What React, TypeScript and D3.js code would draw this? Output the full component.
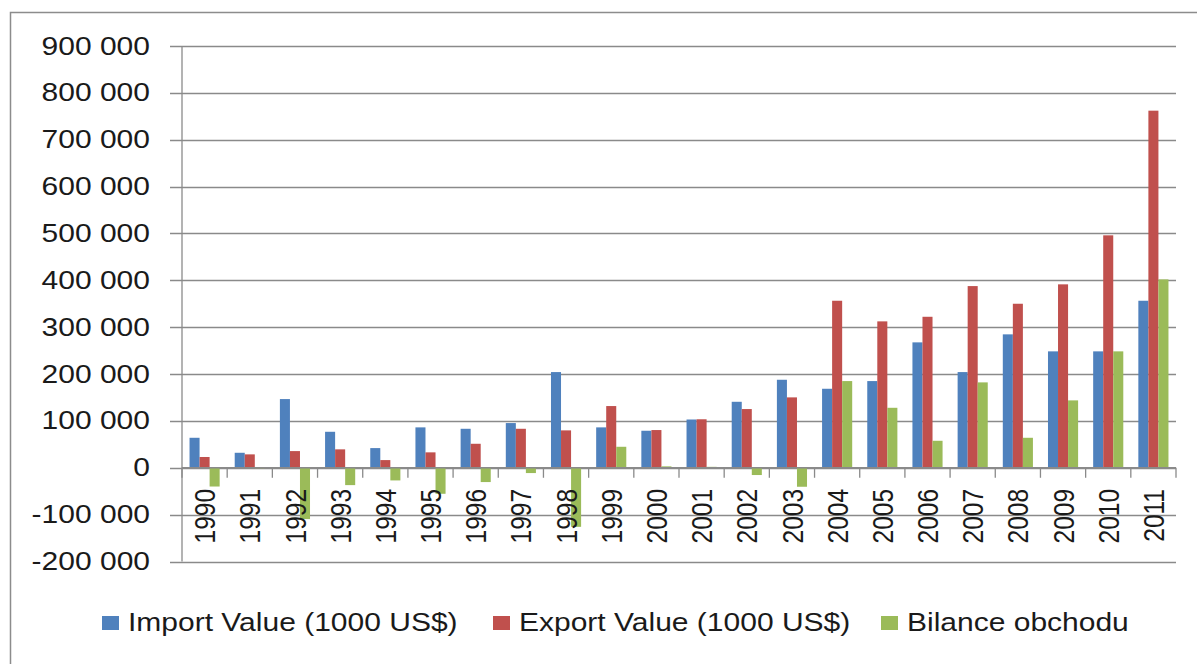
import React from 'react';
import * as d3 from 'd3';

const years = ['1990', '1991', '1992', '1993', '1994', '1995', '1996', '1997', '1998', '1999', '2000',
  '2001', '2002', '2003', '2004', '2005', '2006', '2007', '2008', '2009', '2010', '2011'];

const importValue = [64000, 32000, 146600, 76800, 42000, 86200, 83200, 95400, 204200, 86200, 79000,
  103000, 140800, 187800, 168600, 185000, 267600, 204200, 284700, 248400, 248400, 356400];

const exportValue = [23000, 28600, 35600, 39300, 16400, 32900, 51200, 83200, 79800, 131700, 80500,
  103500, 125300, 150200, 356400, 312400, 322200, 387700, 350000, 391400, 496000, 762000];

const balance = [-40000, -1000, -109500, -37000, -27000, -55500, -30500, -11300, -126000, 44800, 3000,
  2000, -15500, -40500, 185000, 128000, 57600, 182200, 64000, 143800, 248400, 402000];

const seriesNames = ['Import Value (1000 US$)', 'Export Value (1000 US$)', 'Bilance obchodu'];
const seriesColors = ['#4f81bd', '#c0504d', '#9bbb59'];
const yTicks = [-200000, -100000, 0, 100000, 200000, 300000, 400000, 500000, 600000, 700000, 800000, 900000];

const W = 1197;
const H = 664;
const FONT = '"Liberation Sans", Arial, sans-serif';
const STRETCH = 1.2;

export default function App() {
  const left = 182;
  const right = 1176;
  const top = 46;
  const bottom = 561.5;

  const x0 = d3.scaleBand<string>().domain(years).range([left, right]).padding(0);
  const x1 = d3.scaleBand<number>().domain([0, 1, 2]).range([0, x0.bandwidth()])
    .paddingInner(0).paddingOuter(0.75);
  const y = d3.scaleLinear().domain([-200000, 900000]).range([bottom, top]);

  const series = [importValue, exportValue, balance];
  const fmt = (v: number) => d3.format(',')(v).replace(/,/g, ' ').replace('−', '-');

  const legendX = [102, 493, 881];

  return (
    <svg width={W} height={H} style={{ position: 'absolute', left: 0, top: 0, background: '#fff' }}>
      <rect x={10.5} y={12.5} width={W + 20} height={H + 20} fill="#fff" stroke="#8c8c8c" strokeWidth={1.5} />

      {/* gridlines */}
      {yTicks.map(t => (
        <line key={t} x1={170} x2={right} y1={Math.round(y(t)) + 0.5} y2={Math.round(y(t)) + 0.5}
          stroke="#8a8a8a" strokeWidth={1.3} />
      ))}

      {/* y tick labels */}
      {yTicks.map(t => (
        <text key={'l' + t} transform={`translate(150,${y(t) + 8.5}) scale(${STRETCH},1)`}
          textAnchor="end" fontFamily={FONT} fontSize={25} fill="#1a1a1a">{fmt(t)}</text>
      ))}

      {/* bars */}
      {years.map((yr, i) => (
        <g key={yr} transform={`translate(${x0(yr)},0)`}>
          {series.map((s, k) => {
            const v = s[i];
            return (
              <rect key={k} x={x1(k)} width={x1.bandwidth()}
                y={y(Math.max(0, v))} height={Math.abs(y(v) - y(0))} fill={seriesColors[k]} />
            );
          })}
        </g>
      ))}

      {/* value axis */}
      <line x1={left} x2={left} y1={top} y2={bottom} stroke="#8a8a8a" strokeWidth={1.3} />

      {/* category axis */}
      <line x1={left} x2={right} y1={y(0)} y2={y(0)} stroke="#8a8a8a" strokeWidth={1.3} />
      {years.concat(['end']).map((yr, i) => {
        const xx = left + i * x0.step();
        return <line key={'t' + yr} x1={xx} x2={xx} y1={y(0)} y2={y(0) + 10} stroke="#8a8a8a" strokeWidth={1.3} />;
      })}
      {years.map(yr => (
        <text key={'c' + yr}
          transform={`translate(${(x0(yr) ?? 0) + x0.bandwidth() / 2},489) scale(${STRETCH},1) rotate(-90)`}
          textAnchor="end" dy="0.36em" fontFamily={FONT} fontSize={24.5} fill="#1a1a1a">{yr}</text>
      ))}

      {/* legend */}
      {seriesNames.map((name, k) => (
        <g key={name}>
          <rect x={legendX[k]} y={616} width={17} height={14} fill={seriesColors[k]} />
          <text transform={`translate(${legendX[k] + 26},631) scale(${STRETCH},1)`}
            fontFamily={FONT} fontSize={25} fill="#1a1a1a">{name}</text>
        </g>
      ))}
    </svg>
  );
}
